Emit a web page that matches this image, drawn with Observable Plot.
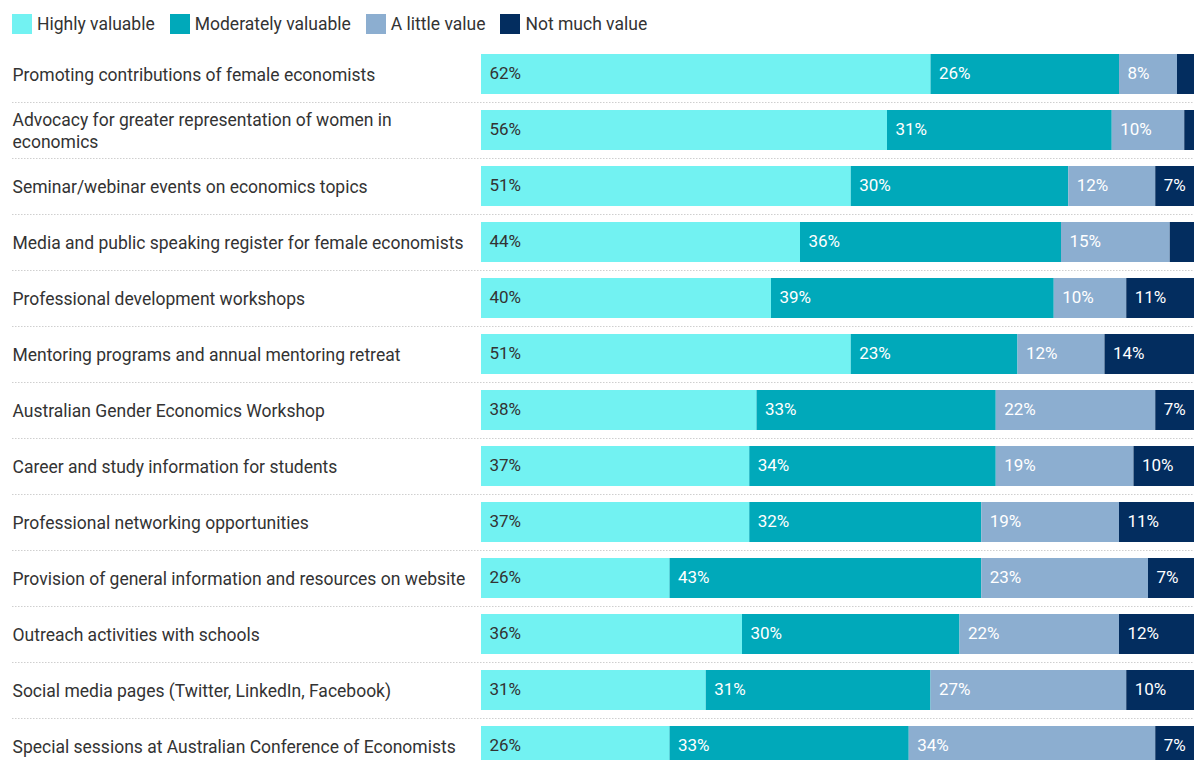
<!DOCTYPE html>
<html><head><meta charset="utf-8">
<script src="https://cdn.jsdelivr.net/npm/d3@7"></script>
<script src="https://cdn.jsdelivr.net/npm/@observablehq/plot@0.6"></script>
<style>
html,body{margin:0;padding:0;background:#fff;overflow:hidden;}
body{font-family:Roboto, sans-serif;width:1194px;height:760px;}
#legend{display:flex;align-items:center;height:46px;padding-left:12px;padding-top:2px;box-sizing:border-box;font-size:17.5px;color:#333;}
.item{display:flex;align-items:center;margin-right:15px;}
.sw{width:20px;height:20px;margin-right:5px;}
</style></head><body>
<div id="legend"></div>
<div id="chart"></div>
<script>
const categories = [
  "Promoting contributions of female economists",
  "Advocacy for greater representation of women in economics",
  "Seminar/webinar events on economics topics",
  "Media and public speaking register for female economists",
  "Professional development workshops",
  "Mentoring programs and annual mentoring retreat",
  "Australian Gender Economics Workshop",
  "Career and study information for students",
  "Professional networking opportunities",
  "Provision of general information and resources on website",
  "Outreach activities with schools",
  "Social media pages (Twitter, LinkedIn, Facebook)",
  "Special sessions at Australian Conference of Economists"
];
const tickLabels = [
  "Promoting contributions of female economists",
  "Advocacy for greater representation of women in\neconomics",
  "Seminar/webinar events on economics topics",
  "Media and public speaking register for female economists",
  "Professional development workshops",
  "Mentoring programs and annual mentoring retreat",
  "Australian Gender Economics Workshop",
  "Career and study information for students",
  "Professional networking opportunities",
  "Provision of general information and resources on website",
  "Outreach activities with schools",
  "Social media pages (Twitter, LinkedIn, Facebook)",
  "Special sessions at Australian Conference of Economists"
];
const series = ["Highly valuable", "Moderately valuable", "A little value", "Not much value"];
const colors = ["#72f2f2", "#00a9ba", "#8caed0", "#032d5f"];
const highly     = [62, 56, 51, 44, 40, 51, 38, 37, 37, 26, 36, 31, 26];
const moderately = [26, 31, 30, 36, 39, 23, 33, 34, 32, 43, 30, 31, 33];
const little     = [ 8, 10, 12, 15, 10, 12, 22, 19, 19, 23, 22, 27, 34];
const notMuch    = [ 4,  3,  7,  5, 11, 14,  7, 10, 11,  7, 12, 10,  7];

const seriesValues = [highly, moderately, little, notMuch];
const rows = [];
categories.forEach((c, i) => {
  series.forEach((s, j) => rows.push({category: c, series: s, value: seriesValues[j][i]}));
});
const labelRows = categories.map((c, i) => ({category: c, label: tickLabels[i]}));

// legend
const legend = document.getElementById("legend");
series.forEach((s, j) => {
  const it = document.createElement("div"); it.className = "item";
  const sw = document.createElement("div"); sw.className = "sw"; sw.style.background = colors[j];
  const tx = document.createElement("span"); tx.textContent = s;
  it.appendChild(sw); it.appendChild(tx); legend.appendChild(it);
});

const W = 1194, H = 728, step = H / categories.length;
const stackOpts = {x: "value", y: "category", z: "series"};

const chart = Plot.plot({
  width: W,
  height: H,
  marginLeft: 12,
  marginRight: 0,
  marginTop: 0,
  marginBottom: 0,
  style: {fontFamily: "Roboto, sans-serif", background: "#fff"},
  x: {domain: [0, 100], range: [481, 1206], axis: null},
  y: {domain: categories, range: [0, H], padding: 0, axis: null},
  color: {domain: series, range: colors},
  marks: [
    Plot.ruleY(categories.slice(1), {y: d => d, dy: -step / 2, stroke: "#cfcfcf", strokeDasharray: "1.5,1.5"}),
    Plot.barX(rows, Plot.stackX({...stackOpts, fill: "series", insetTop: 8, insetBottom: 8})),
    Plot.text(rows, Plot.filter(d => d.series === series[0], Plot.stackX1({...stackOpts,
      text: d => d.value >= 6 ? d.value + "%" : null, textAnchor: "start", dx: 8, dy: -1, fill: "#333", fontSize: 17}))),
    Plot.text(rows, Plot.filter(d => d.series !== series[0], Plot.stackX1({...stackOpts,
      text: d => d.value >= 6 ? d.value + "%" : null, textAnchor: "start", dx: 8, dy: -1, fill: "#fff", fontSize: 17}))),
    Plot.text(labelRows, {y: "category", text: "label", frameAnchor: "left", textAnchor: "start", dy: -1,
      fill: "#333", fontSize: 17.5, lineHeight: 1.26})
  ]
});
document.getElementById("chart").appendChild(chart);
</script>
</body></html>
